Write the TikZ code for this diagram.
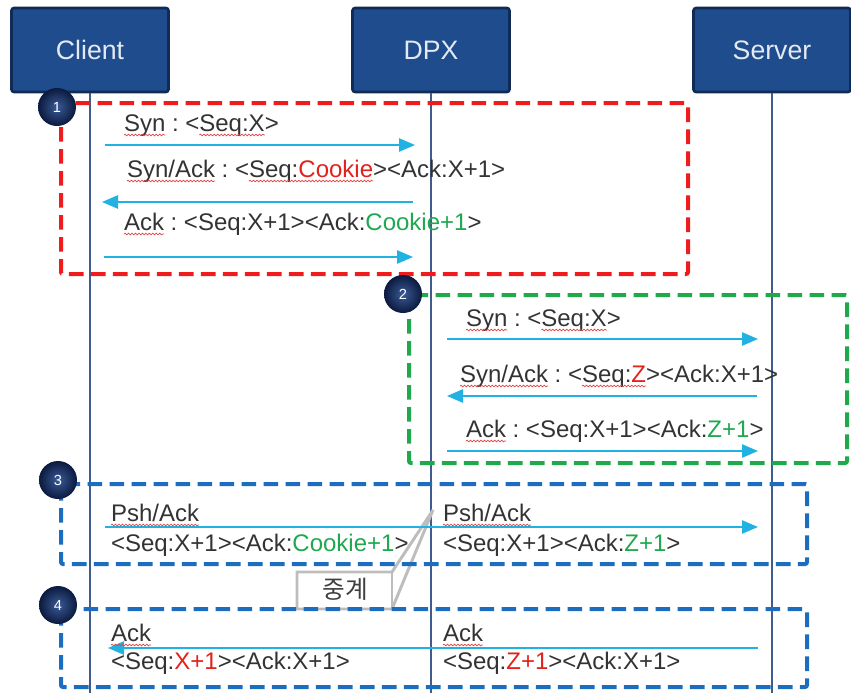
\documentclass[tikz,border=0pt]{standalone}
\usepackage{fontspec}
\setmainfont{Liberation Sans}
\newfontfamily\krfont{Noto Sans CJK KR}
\usetikzlibrary{arrows.meta,decorations.pathmorphing}
\definecolor{actorfill}{HTML}{1F4C8C}
\definecolor{actorborder}{HTML}{102B56}
\definecolor{actortext}{HTML}{E4EAF4}
\definecolor{lifec}{HTML}{3F5C8C}
\definecolor{arrowc}{HTML}{22B2E2}
\definecolor{txt}{HTML}{333333}
\definecolor{redt}{HTML}{E3211C}
\definecolor{greent}{HTML}{1FA84F}
\definecolor{redbox}{HTML}{EE1C1C}
\definecolor{greenbox}{HTML}{1FA94A}
\definecolor{bluebox}{HTML}{1C6DBF}
\definecolor{sqred}{HTML}{E04848}
\definecolor{callc}{HTML}{BDBDBD}
\definecolor{calltext}{HTML}{404040}
\definecolor{numin}{HTML}{3A5A96}
\definecolor{numout}{HTML}{0B1A3E}
\tikzset{
  actor/.style={draw=actorborder, fill=actorfill, line width=2pt, rounded corners=2pt,
    minimum width=117.75pt, minimum height=63pt, text=actortext, font=\fontsize{20}{24}\selectfont},
  life/.style={draw=lifec, line width=1pt},
  msg/.style={inner sep=0pt, outer sep=0pt, anchor=base west, text=txt, font=\fontsize{18}{21}\selectfont},
  flow/.style={draw=arrowc, line width=1.2pt, -{Triangle[length=12pt,width=10pt]}},
  grp/.style={line width=3pt, dash pattern=on 11pt off 5.5pt, rounded corners=1.5pt},
  num/.style={circle, minimum size=28.5pt, inner sep=0pt, inner color=numin, outer color=numout,
    text=white, font=\fontsize{11}{13}\selectfont},
  wavy/.style={draw=sqred, line width=0.55pt, decorate, decoration={snake, amplitude=0.6pt, segment length=2.6pt}},
  callout/.style={draw=callc, line width=2.2pt, fill=white, line join=miter},
  calltxt/.style={text=calltext, font=\krfont\fontsize{18.5}{22}\selectfont, inner sep=0pt}
}
\begin{document}
\begin{tikzpicture}[x=0.75pt, y=-0.75pt]
\useasboundingbox (0,0) rectangle (851,693);
% actors
\node[actor] (client) at (90,50) {Client};
\node[actor] (dpx) at (431,50) {DPX};
\node[actor] (server) at (772,50) {Server};
\coordinate (bottom) at (0,693);
\draw[life] (client.south) -- (client.south |- bottom);
\draw[life] (dpx.south) -- (dpx.south |- bottom);
\draw[life] (server.south) -- (server.south |- bottom);

% callout
\draw[callout] (297,572) -- (392,572) -- (433,510) -- (392,609) -- (297,609) -- cycle;
\draw[draw=callc, line width=2.2pt] (392,572) -- (392,609);
\node[calltxt] (relay) at (345,589) {중계};

% section 1 arrows
\coordinate (a1s) at (105,145); \coordinate (a1e) at (415,145);
\coordinate (a2s) at (413,202); \coordinate (a2e) at (102,202);
\coordinate (a3s) at (104,257); \coordinate (a3e) at (413,257);
\draw[flow] (a1s) -- (a1e);
\draw[flow] (a2s) -- (a2e);
\draw[flow] (a3s) -- (a3e);
% section 2 arrows
\coordinate (b1s) at (447,339); \coordinate (b1e) at (758,339);
\coordinate (b2s) at (757,396); \coordinate (b2e) at (447,396);
\coordinate (b3s) at (447,451); \coordinate (b3e) at (758,451);
\draw[flow] (b1s) -- (b1e);
\draw[flow] (b2s) -- (b2e);
\draw[flow] (b3s) -- (b3e);
% section 3 / 4 arrows
\coordinate (c1s) at (105,527); \coordinate (c1e) at (758,527);
\coordinate (d1s) at (758,648); \coordinate (d1e) at (108,648);
\draw[flow] (c1s) -- (c1e);
\draw[flow] (d1s) -- (d1e);

% section 1 texts
\node[msg] (p1a) at (124,131) {Syn};
\node[msg] (p1b) at (p1a.base east) {\ :\ <};
\node[msg] (p1c) at (p1b.base east) {Seq:X};
\node[msg] (p1d) at (p1c.base east) {>};
\node[msg] (p2a) at (127,177) {Syn/Ack};
\node[msg] (p2b) at (p2a.base east) {\ :\ <};
\node[msg] (p2c) at (p2b.base east) {Seq:\textcolor{redt}{Cookie}};
\node[msg] (p2d) at (p2c.base east) {><Ack:X+1>};
\node[msg] (p3a) at (124,230) {Ack};
\node[msg] (p3b) at (p3a.base east) {\ :\ <Seq:X+1><Ack:\textcolor{greent}{Cookie+1}>};
% section 2 texts
\node[msg] (q1a) at (466,326) {Syn};
\node[msg] (q1b) at (q1a.base east) {\ :\ <};
\node[msg] (q1c) at (q1b.base east) {Seq:X};
\node[msg] (q1d) at (q1c.base east) {>};
\node[msg] (q2a) at (460,382) {Syn/Ack};
\node[msg] (q2b) at (q2a.base east) {\ :\ <};
\node[msg] (q2c) at (q2b.base east) {Seq:\textcolor{redt}{Z}};
\node[msg] (q2d) at (q2c.base east) {><Ack:X+1>};
\node[msg] (q3a) at (466,437) {Ack};
\node[msg] (q3b) at (q3a.base east) {\ :\ <Seq:X+1><Ack:\textcolor{greent}{Z+1}>};
% section 3 texts
\node[msg] (r1a) at (111,521) {Psh/Ack};
\node[msg] (r1b) at (111,551) {<Seq:X+1><Ack:\textcolor{greent}{Cookie+1}>};
\node[msg] (r2a) at (443,521) {Psh/Ack};
\node[msg] (r2b) at (443,551) {<Seq:X+1><Ack:\textcolor{greent}{Z+1}>};
% section 4 texts
\node[msg] (s1a) at (111,641) {Ack};
\node[msg] (s1b) at (111,669) {<Seq:\textcolor{redt}{X+1}><Ack:X+1>};
\node[msg] (s2a) at (443,641) {Ack};
\node[msg] (s2b) at (443,669) {<Seq:\textcolor{redt}{Z+1}><Ack:X+1>};

% spell-check squiggles
\foreach \n in {p1a,p1c,p2a,p2c,p3a,q1a,q1c,q2a,q2c,q3a,r1a,r2a,s1a,s2a}
  \draw[wavy] ([yshift=-3pt]\n.base west) -- ([yshift=-3pt]\n.base east);

% group boxes
\draw[grp, draw=redbox] (61,103) rectangle (688,274);
\draw[grp, draw=greenbox] (409,295) rectangle (847,463);
\draw[grp, draw=bluebox] (61,484) rectangle (807,564);
\draw[grp, draw=bluebox] (61,609) rectangle (807,687);

% step numbers
\node[num] (n1) at (57,107) {1};
\node[num] (n2) at (403,294) {2};
\node[num] (n3) at (58,480) {3};
\node[num] (n4) at (58,605) {4};
\end{tikzpicture}
\end{document}
